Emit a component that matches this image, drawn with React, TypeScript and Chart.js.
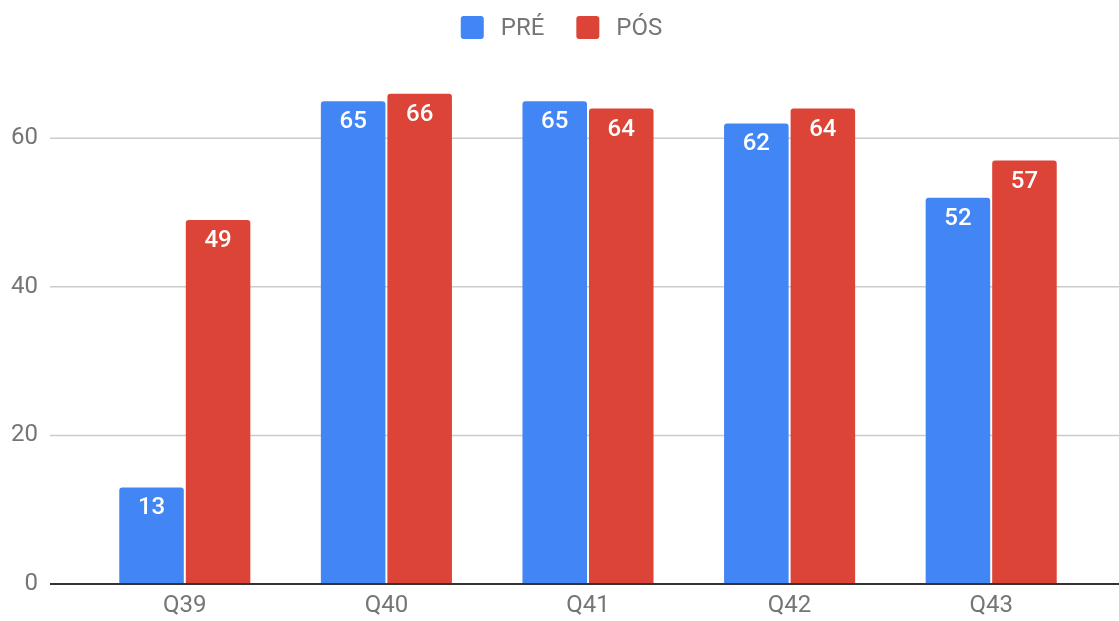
import React, { useEffect, useRef } from "react";
import { Chart, registerables } from "chart.js";

Chart.register(...registerables);

const categories = ["Q39", "Q40", "Q41", "Q42", "Q43"];
const preValues = [13, 65, 65, 62, 52];
const posValues = [49, 66, 64, 64, 57];
const seriesLabels = ["PRÉ", "PÓS"];
const seriesColors = ["#4285F4", "#DB4437"];
const yTicks = [0, 20, 40, 60];

const FONT = "Roboto, 'Noto Sans', Arial, sans-serif";
const TEXT_GRAY = "#757575";

export default function App() {
  const ref = useRef<HTMLCanvasElement | null>(null);

  useEffect(() => {
    document.body.style.margin = "0";
    const canvas = ref.current;
    if (!canvas) return;

    const decorPlugin = {
      id: "decor",
      beforeDatasetsDraw(chart: any) {
        const { ctx } = chart;
        const y = chart.scales.y;
        const left = y.left + 50;
        ctx.save();
        ctx.strokeStyle = "#cccccc";
        ctx.lineWidth = 1.5;
        for (const v of yTicks) {
          if (v === 0) continue;
          const py = y.getPixelForValue(v);
          ctx.beginPath();
          ctx.moveTo(left, py);
          ctx.lineTo(chart.width, py);
          ctx.stroke();
        }
        ctx.restore();
      },
      afterDatasetsDraw(chart: any) {
        const { ctx } = chart;
        const y = chart.scales.y;
        const left = y.left + 50;
        ctx.save();
        // baseline
        ctx.strokeStyle = "#333333";
        ctx.lineWidth = 2;
        const py0 = y.getPixelForValue(0);
        ctx.beginPath();
        ctx.moveTo(left, py0);
        ctx.lineTo(chart.width, py0);
        ctx.stroke();
        // value labels
        ctx.fillStyle = "#ffffff";
        ctx.font = `500 24px ${FONT}`;
        ctx.textAlign = "center";
        ctx.textBaseline = "middle";
        chart.data.datasets.forEach((ds: any, di: number) => {
          const meta = chart.getDatasetMeta(di);
          meta.data.forEach((el: any, i: number) => {
            ctx.fillText(String(ds.data[i]), el.x, el.y + 21);
          });
        });
        // legend
        ctx.font = `24px ${FONT}`;
        ctx.textAlign = "left";
        const box = 23;
        const gapText = 17;
        const gapItem = 32;
        const widths = seriesLabels.map((t) => ctx.measureText(t).width);
        const total =
          widths.reduce((a, w) => a + box + gapText + w, 0) +
          gapItem * (seriesLabels.length - 1);
        let x = chart.width / 2 - total / 2 + 2;
        const cy = 27.5;
        seriesLabels.forEach((t, i) => {
          ctx.fillStyle = seriesColors[i];
          ctx.beginPath();
          (ctx as any).roundRect(x, cy - box / 2, box, box, 3);
          ctx.fill();
          ctx.fillStyle = TEXT_GRAY;
          ctx.fillText(t, x + box + gapText, cy + 1);
          x += box + gapText + widths[i] + gapItem;
        });
        ctx.restore();
      },
    };

    const chart = new Chart(canvas, {
      type: "bar",
      data: {
        labels: categories,
        datasets: [
          {
            label: seriesLabels[0],
            data: preValues,
            backgroundColor: seriesColors[0],
            borderRadius: 3,
            borderSkipped: "start",
            categoryPercentage: 0.66,
            barPercentage: 0.97,
          },
          {
            label: seriesLabels[1],
            data: posValues,
            backgroundColor: seriesColors[1],
            borderRadius: 3,
            borderSkipped: "start",
            categoryPercentage: 0.66,
            barPercentage: 0.97,
          },
        ],
      },
      options: {
        responsive: false,
        animation: false,
        layout: { padding: { top: 64, right: 27, bottom: 0, left: 0 } },
        plugins: {
          legend: { display: false },
          tooltip: { enabled: false },
        },
        scales: {
          x: {
            grid: { display: false, drawTicks: false },
            border: { display: false },
            ticks: {
              color: TEXT_GRAY,
              font: { family: FONT, size: 24 },
              padding: 8,
            },
            afterFit: (s: any) => {
              s.height = 37;
            },
          },
          y: {
            min: 0,
            max: 70,
            grid: { display: false, drawTicks: true, tickLength: 46 },
            border: { display: false },
            ticks: {
              color: TEXT_GRAY,
              font: { family: FONT, size: 24 },
              padding: 0,
            },
            afterBuildTicks: (s: any) => {
              s.ticks = yTicks.map((v) => ({ value: v }));
            },
            afterFit: (s: any) => {
              s.width = 84;
            },
          },
        },
      },
      plugins: [decorPlugin],
    });

    return () => chart.destroy();
  }, []);

  return <canvas ref={ref} width={1119} height={621} style={{ display: "block" }} />;
}
